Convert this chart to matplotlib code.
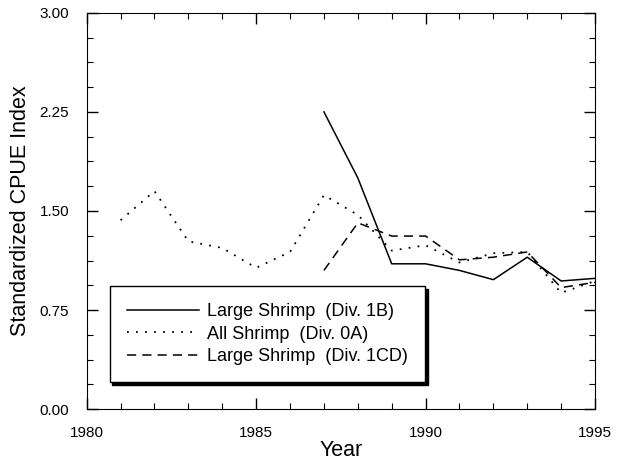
import matplotlib
matplotlib.use("Agg")
import matplotlib.pyplot as plt
from matplotlib.ticker import MultipleLocator, AutoMinorLocator, FormatStrFormatter

plt.rcParams['font.family'] = ['Liberation Sans', 'DejaVu Sans']

# Large Shrimp (Div. 1B)
years_1b = [1987, 1988, 1989, 1990, 1991, 1992, 1993, 1994, 1995]
cpue_1b = [2.25, 1.75, 1.10, 1.10, 1.05, 0.98, 1.15, 0.97, 0.99]

# All Shrimp (Div. 0A)
years_0a = [1981, 1982, 1983, 1984, 1985, 1986, 1987, 1988, 1989, 1990, 1991, 1992, 1993, 1994, 1995]
cpue_0a = [1.43, 1.65, 1.27, 1.22, 1.07, 1.19, 1.62, 1.47, 1.20, 1.24, 1.11, 1.18, 1.19, 0.88, 0.97]

# Large Shrimp (Div. 1CD)
years_1cd = [1987, 1988, 1989, 1990, 1991, 1992, 1993, 1994, 1995]
cpue_1cd = [1.05, 1.41, 1.31, 1.31, 1.13, 1.15, 1.19, 0.92, 0.96]

fig = plt.figure(figsize=(6.33, 4.73), dpi=100)
ax = fig.add_axes([0.137, 0.135, 0.803, 0.838])

ax.plot(years_1b, cpue_1b, color='black', lw=1.1, label='Large Shrimp  (Div. 1B)')
ax.plot(years_0a, cpue_0a, color='black', lw=1.3, linestyle=(0, (1, 4)), label='All Shrimp  (Div. 0A)')
ax.plot(years_1cd, cpue_1cd, color='black', lw=1.1, linestyle=(0, (6, 4)), label='Large Shrimp  (Div. 1CD)')

ax.set_xlim(1980, 1995)
ax.set_ylim(0, 3.0)
ax.xaxis.set_major_locator(MultipleLocator(5))
ax.xaxis.set_minor_locator(MultipleLocator(1))
ax.yaxis.set_major_locator(MultipleLocator(0.75))
ax.yaxis.set_minor_locator(AutoMinorLocator(4))
ax.yaxis.set_major_formatter(FormatStrFormatter('%.2f'))
ax.tick_params(which='both', direction='in', top=True, right=True, labelsize=11)
ax.tick_params(which='major', length=8, width=1)
ax.tick_params(which='minor', length=4.5, width=0.8)
ax.tick_params(axis='x', pad=12)
ax.tick_params(axis='y', pad=12.5)

ax.set_xlabel('Year', fontsize=15.5, labelpad=0)
ax.set_ylabel('Standardized CPUE Index', fontsize=15.5, labelpad=6)

leg = ax.legend(loc='lower left', bbox_to_anchor=(0.045, 0.068), fontsize=13,
                handlelength=4.0, frameon=True, fancybox=False,
                shadow={'color': 'black', 'alpha': 1}, borderpad=0.95,
                labelspacing=0.3, handletextpad=0.45, borderaxespad=0)
leg.get_frame().set_edgecolor('black')
leg.get_frame().set_linewidth(1.0)
leg.get_frame().set_alpha(1)

fig.savefig('out.png', dpi=100)
